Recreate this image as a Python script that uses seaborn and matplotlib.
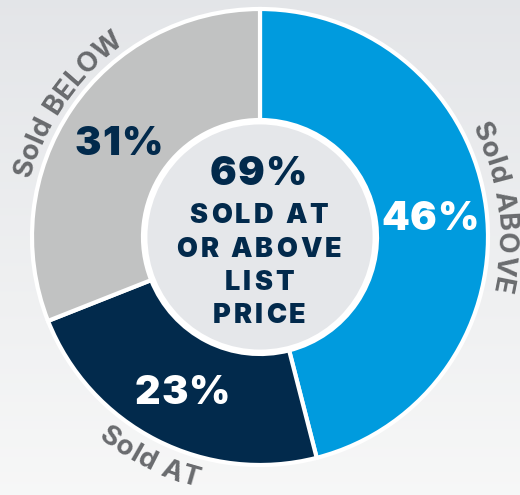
import numpy as np
import matplotlib
matplotlib.use("Agg")
import matplotlib.pyplot as plt
import seaborn as sns
from matplotlib.patches import Circle
from matplotlib.font_manager import FontProperties
from matplotlib.textpath import text_to_path

# ---- data ----
categories = ["Sold ABOVE", "Sold AT", "Sold BELOW"]
shares = [46, 23, 31]
pct_labels = ["46%", "23%", "31%"]
center_value = "69%"
center_text = ["SOLD AT", "OR ABOVE", "LIST", "PRICE"]

colors = ["#009bde", "#022a4c", "#c1c2c2"]
pct_colors = ["white", "white", "#022a4c"]
navy = "#022a4c"
label_gray = "#696b6e"

sns.set_theme(style="white")
plt.rcParams["font.family"] = ["Inter", "DejaVu Sans"]

W, H = 520, 495
fig = plt.figure(figsize=(W / 100, H / 100), dpi=100)
ax = fig.add_axes([0, 0, 1, 1])

# background (soft blurred photo look)
grad = np.linspace(0, 1, 256)[:, None]
bg_top = np.array([0.893, 0.900, 0.912])
bg_bot = np.array([0.968, 0.970, 0.970])
img = bg_top * (1 - grad[..., None]) + bg_bot * grad[..., None]
img = np.repeat(img, 4, axis=1)
ax.imshow(img, extent=[0, W, 0, H], aspect="auto", zorder=0, origin="upper")

cx, cy = 260, H - 237
R_out, R_in = 228, 117

wedges, _ = ax.pie(shares, colors=colors, startangle=90, counterclock=False,
                   center=(cx, cy), radius=R_out,
                   wedgeprops=dict(width=R_out - R_in, edgecolor="white", linewidth=3))
for w in wedges:
    w.set_zorder(2)

ax.add_patch(Circle((cx, cy), R_in - 2, facecolor="#e5e7ea", edgecolor="white",
                    linewidth=3.5, zorder=3))

CAP = 0.727  # Inter cap height / em


def px_width(t, prop):
    if not t:
        return 0.0
    w, h, d = text_to_path.get_text_width_height_descent(t.replace(" ", "\u00a0"), prop, ismath=False)
    return w * 100 / 72.0


def tracked_text(x, yc, text, size, weight, tracking, color):
    """Horizontal text centred at (x, yc) (cap-height centre) with extra letter spacing."""
    prop = FontProperties(family="Inter", weight=weight, size=size)
    cap_px = CAP * size * 100 / 72.0
    total = px_width(text, prop) + tracking * (len(text) - 1)
    yb = yc - cap_px / 2
    for i, ch in enumerate(text):
        if ch == " ":
            continue
        s = px_width(text[:i], prop) + tracking * i + px_width(ch, prop) / 2 - total / 2
        ax.text(x + s, yb, ch, color=color, fontproperties=prop,
                ha="center", va="baseline", zorder=4)


# percentage labels at wedge mid angles
start = 90.0
r_mid = 171
for s, lab, col in zip(shares, pct_labels, pct_colors):
    ang = start - s * 3.6 / 2
    start -= s * 3.6
    a = np.deg2rad(ang)
    tracked_text(cx + r_mid * np.cos(a), cy + r_mid * np.sin(a), lab, 28.5, 900, 0.8, col)

# center text
tracked_text(cx - 2, H - 171, center_value, 28.5, 900, 0.8, navy)
for i, line in enumerate(center_text):
    tracked_text(cx - 1, H - (213.5 + i * 33.2), line, 19.5, 900, 3.2, navy)


# curved outer labels
def arc_text(text, ang_first, ang_last, r_base, clockwise, size):
    prop = FontProperties(family="Inter", weight=700, size=size)
    n = len(text)
    centers = [px_width(text[:i], prop) + px_width(ch, prop) / 2 for i, ch in enumerate(text)]
    r_ref = r_base + (9 if clockwise else -9)
    target = np.deg2rad(abs(ang_first - ang_last)) * r_ref
    extra = (target - (centers[-1] - centers[0])) / (n - 1)
    for i, ch in enumerate(text):
        if ch == " ":
            continue
        s = centers[i] - centers[0] + extra * i
        off = np.rad2deg(s / r_ref)
        if clockwise:
            ang = ang_first - off
            rot = ang - 90
        else:
            ang = ang_first + off
            rot = ang + 90
        a = np.deg2rad(ang)
        ax.text(cx + r_base * np.cos(a), cy + r_base * np.sin(a), ch, color=label_gray,
                fontproperties=prop, rotation=rot, rotation_mode="anchor",
                ha="center", va="baseline", zorder=4)


arc_text("Sold BELOW", 163.5, 128.5, 237, True, 20)
arc_text("Sold ABOVE", 25.3, -11.1, 238, True, 20)
arc_text("Sold AT", -127.0, -106.0, 258, False, 20)

ax.set_xlim(0, W)
ax.set_ylim(0, H)
ax.set_aspect("auto")
ax.axis("off")
fig.savefig("out.png", dpi=100)
